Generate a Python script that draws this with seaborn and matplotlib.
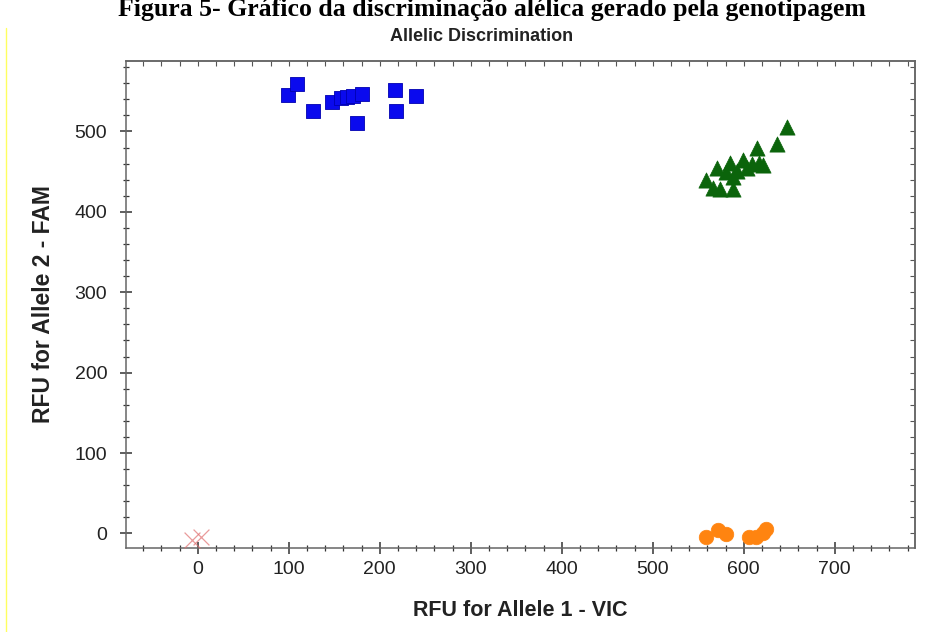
import numpy as np
import pandas as pd
import matplotlib.pyplot as plt
import seaborn as sns
from matplotlib.ticker import MultipleLocator
from matplotlib.lines import Line2D

# RFU values
fam_homo_x = [99, 109, 127, 147, 157, 164, 171, 180, 175, 217, 218, 240]
fam_homo_y = [545, 559, 526, 537, 541, 543, 544, 547, 511, 552, 525, 544]

hetero_x = [648, 637, 615, 617, 599, 585, 571, 559, 566, 574, 588, 588, 609, 621, 581, 593, 604]
hetero_y = [505, 484, 480, 461, 464, 461, 455, 439, 430, 429, 429, 443, 460, 458, 449, 451, 454]

vic_homo_x = [559, 572, 581, 606, 614, 621, 625]
vic_homo_y = [-5, 4, -1, -5, -4, 0, 6]

ntc_x = [-6, 3]
ntc_y = [-8, -5]

sns.set_style("ticks")
plt.rcParams['font.family'] = ['Liberation Sans', 'DejaVu Sans']

fig = plt.figure(figsize=(9.47, 6.32), dpi=100)
ax = fig.add_axes([0.133, 0.133, 0.833, 0.771])

df_sq = pd.DataFrame({'x': fam_homo_x, 'y': fam_homo_y})
df_tri = pd.DataFrame({'x': hetero_x, 'y': hetero_y})
df_circ = pd.DataFrame({'x': vic_homo_x, 'y': vic_homo_y})
df_ntc = pd.DataFrame({'x': ntc_x, 'y': ntc_y})

sns.scatterplot(data=df_sq, x='x', y='y', marker='s', s=105, color='#0a0aee',
                edgecolor='#0000b0', linewidth=0.6, ax=ax, zorder=3)
sns.scatterplot(data=df_tri, x='x', y='y', marker='^', s=120, color='#0b640b',
                edgecolor='#0b640b', linewidth=0.5, ax=ax, zorder=3)
sns.scatterplot(data=df_circ, x='x', y='y', marker='o', s=110, color='#ff8410',
                edgecolor='#ff8410', linewidth=0.5, ax=ax, zorder=3)
sns.scatterplot(data=df_ntc, x='x', y='y', marker='x', s=130, color='#e07070',
                linewidth=0.9, alpha=0.7, ax=ax, zorder=3)

ax.set_xlim(-79, 788)
ax.set_ylim(-18, 588)
ax.xaxis.set_major_locator(MultipleLocator(100))
ax.xaxis.set_minor_locator(MultipleLocator(20))
ax.yaxis.set_major_locator(MultipleLocator(100))
ax.yaxis.set_minor_locator(MultipleLocator(20))

ax.tick_params(which='major', direction='inout', length=9, width=1.1,
               color='#333333', labelsize=14, labelcolor='#222222')
ax.tick_params(which='minor', direction='inout', length=5, width=0.9, color='#333333')
ax.tick_params(axis='y', which='major', pad=9)
ax.tick_params(axis='x', which='major', pad=5)

# short inward ticks on the top and right frame
top = ax.secondary_xaxis('top')
top.xaxis.set_major_locator(MultipleLocator(100))
top.xaxis.set_minor_locator(MultipleLocator(20))
top.tick_params(which='both', direction='in', length=3.5, width=0.8,
                color='#555555', labeltop=False)
right = ax.secondary_yaxis('right')
right.yaxis.set_major_locator(MultipleLocator(100))
right.yaxis.set_minor_locator(MultipleLocator(20))
right.tick_params(which='both', direction='in', length=3.5, width=0.8,
                  color='#555555', labelright=False)
for sp in list(ax.spines.values()) + list(top.spines.values()) + list(right.spines.values()):
    sp.set_color('#666666')
    sp.set_linewidth(1.1)

ax.set_xlabel('RFU for Allele 1 - VIC', fontsize=15.5, fontweight='bold',
              color='#222222', labelpad=16)
ax.set_ylabel('RFU for Allele 2 - FAM', fontsize=16.5, fontweight='bold',
              color='#222222', labelpad=14)

fig.text(0.508, 0.943, 'Allelic Discrimination', ha='center', va='center',
         fontsize=13, fontweight='bold', color='#222222')

# caption of the scanned figure at the top edge
fig.text(0.125, 0.974, 'Figura 5- Gráfico da discriminação alélica gerado pela genotipagem',
         ha='left', va='baseline', fontsize=18.5, fontweight='bold',
         family=['Liberation Serif', 'DejaVu Serif'], color='black')

fig.add_artist(Line2D([0.006, 0.006], [0.0, 0.955], transform=fig.transFigure,
                      color='#ffff60', linewidth=1.0))

fig.savefig('out.png', dpi=100)
plt.close(fig)
